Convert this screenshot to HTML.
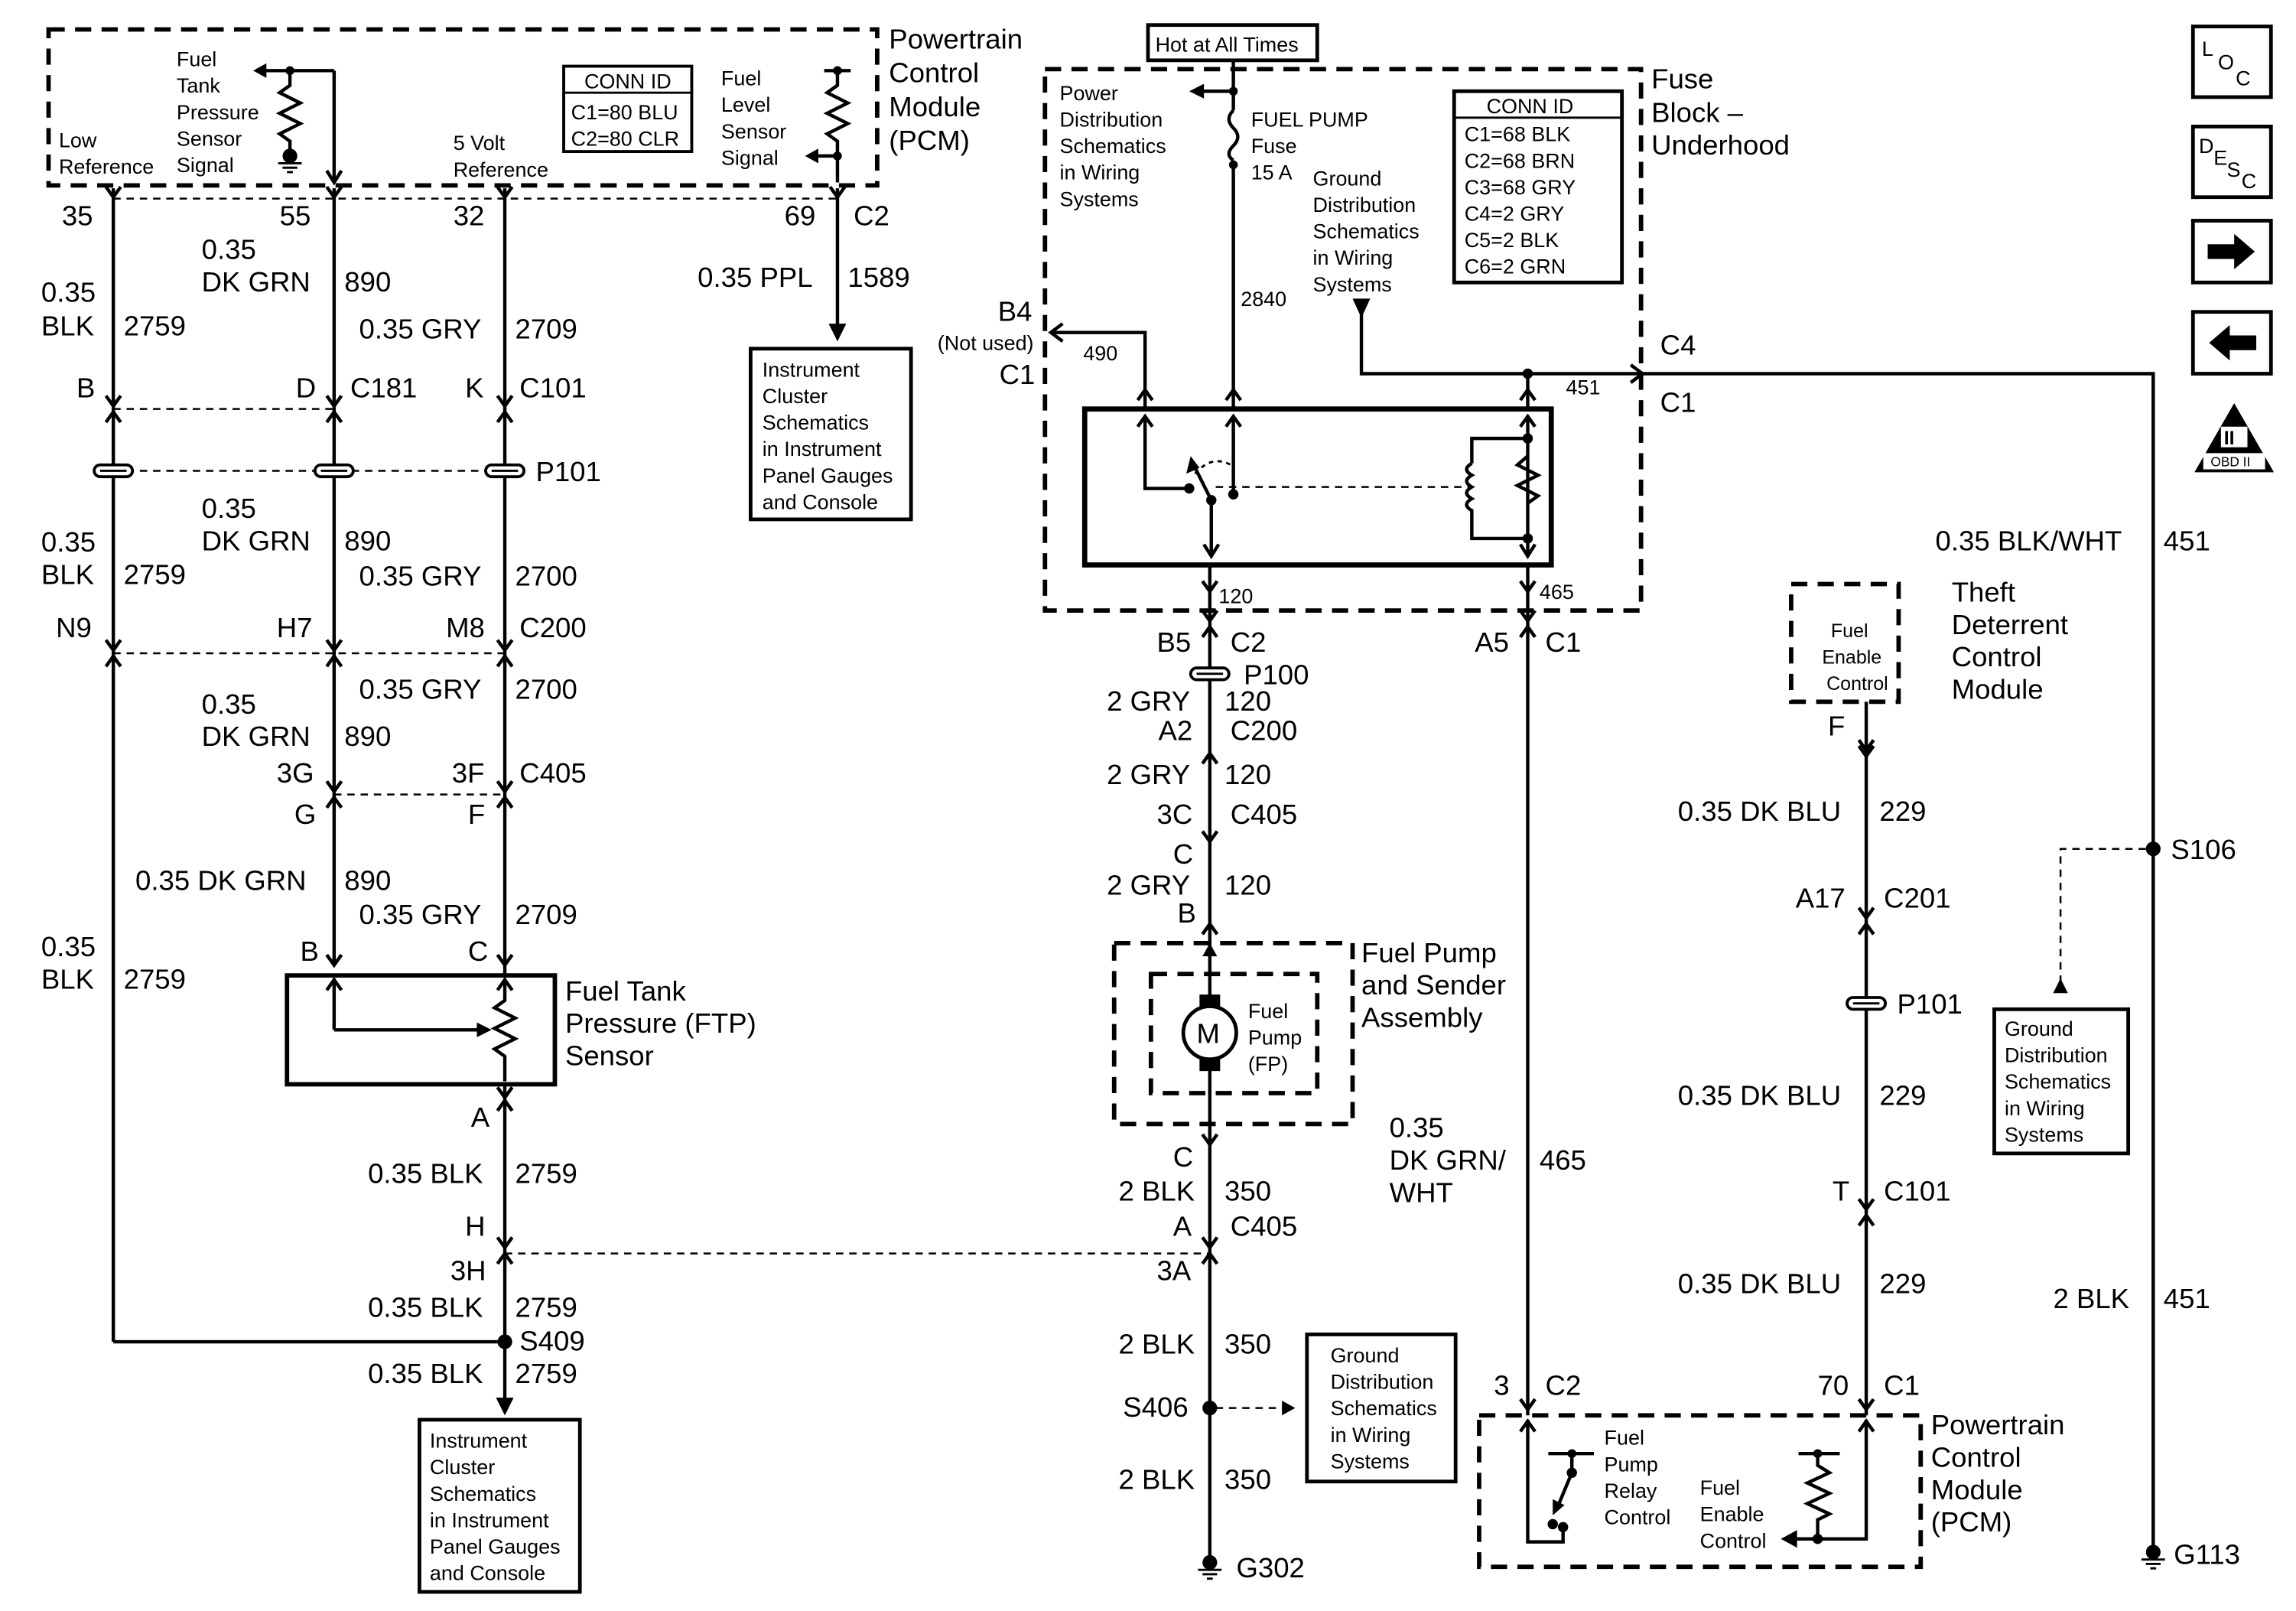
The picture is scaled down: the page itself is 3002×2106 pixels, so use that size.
<!DOCTYPE html>
<html><head><meta charset="utf-8"><style>
html,body{margin:0;padding:0;background:#fff}
svg{display:block}
text{font-family:"Liberation Sans",Arial,sans-serif;fill:#000}
.b{font-size:19px}
.s{font-size:14px}
.w{stroke:#000;stroke-width:2.3;fill:none}
.d{stroke:#000;stroke-width:3;fill:none;stroke-dasharray:11 7}
.dl{stroke:#000;stroke-width:1.3;fill:none;stroke-dasharray:5 4}
.t{stroke:#000;stroke-width:3;fill:none}
</style></head><body>
<svg width="3002" height="2106" viewBox="0 0 1560 1095" preserveAspectRatio="none" xmlns="http://www.w3.org/2000/svg">
<defs>
<g id="vd"><polyline points="-5,-7 0,0 5,-7" class="w"/></g>
<g id="vu"><polyline points="-5,7 0,0 5,7" class="w"/></g>
<g id="sp"><rect x="-13" y="-4" width="26" height="8" rx="4" fill="#fff" stroke="#000" stroke-width="2"/><line x1="-9" y1="0" x2="9" y2="0" stroke="#000" stroke-width="1.5"/></g>
<g id="gnd"><circle cx="0" cy="0" r="5" fill="#000"/><line x1="-8" y1="5" x2="8" y2="5" stroke="#000" stroke-width="1.5"/><line x1="-5" y1="8" x2="5" y2="8" stroke="#000" stroke-width="1.5"/><line x1="-2" y1="11" x2="2" y2="11" stroke="#000" stroke-width="1.5"/></g>
</defs>

<!-- Top PCM -->
<rect x="33" y="20" width="563" height="106" class="d"/>
<text class="b" x="604" y="33">Powertrain</text><text class="b" x="604" y="56">Control</text><text class="b" x="604" y="79">Module</text><text class="b" x="604" y="102">(PCM)</text>
<text class="s" x="40" y="100">Low</text><text class="s" x="40" y="118">Reference</text>
<text class="s" x="120" y="45">Fuel</text><text class="s" x="120" y="63">Tank</text><text class="s" x="120" y="81">Pressure</text><text class="s" x="120" y="99">Sensor</text><text class="s" x="120" y="117">Signal</text>
<polyline class="w" points="197,50 197,58 190,63 204,70 190,77 204,84 190,91 197,96 197,104"/>
<use href="#gnd" x="197" y="106"/>
<line class="w" x1="175" y1="48" x2="227" y2="48"/><polygon points="172,48 181,43 181,53"/>
<circle cx="197" cy="48" r="3"/>
<line class="w" x1="227" y1="48" x2="227" y2="124"/><polyline class="w" points="222,116 227,124 232,116"/>
<text class="s" x="308" y="102">5 Volt</text><text class="s" x="308" y="120">Reference</text>
<rect x="383" y="45" width="87" height="58" fill="none" stroke="#000" stroke-width="2"/>
<line x1="383" y1="63" x2="470" y2="63" stroke="#000" stroke-width="1.5"/>
<text class="s" x="397" y="60">CONN ID</text><text class="s" x="388" y="81">C1=80 BLU</text><text class="s" x="388" y="99">C2=80 CLR</text>
<text class="s" x="490" y="58">Fuel</text><text class="s" x="490" y="76">Level</text><text class="s" x="490" y="94">Sensor</text><text class="s" x="490" y="112">Signal</text>
<line class="w" x1="560" y1="48" x2="578" y2="48"/><circle cx="569" cy="48" r="3"/>
<polyline class="w" points="569,48 569,58 562,63 576,70 562,77 576,84 562,91 569,96 569,124"/>
<line class="w" x1="551" y1="106" x2="569" y2="106"/><polygon points="547,106 556,101 556,111"/><circle cx="569" cy="106" r="3"/>
<line class="dl" x1="77" y1="135" x2="569" y2="135"/>
<use href="#vd" x="77" y="134"/><use href="#vd" x="227" y="134"/><use href="#vd" x="343" y="134"/><use href="#vd" x="569" y="134"/>
<text class="b" x="42" y="153">35</text><text class="b" x="190" y="153">55</text><text class="b" x="308" y="153">32</text><text class="b" x="533" y="153">69</text><text class="b" x="580" y="153">C2</text>

<!-- left wires -->
<line class="w" x1="77" y1="128" x2="77" y2="912"/>
<line class="w" x1="227" y1="128" x2="227" y2="655"/>
<line class="w" x1="343" y1="128" x2="343" y2="960"/>
<line class="w" x1="77" y1="912" x2="343" y2="912"/>
<circle cx="343" cy="912" r="5"/>
<polygon points="343,962 337,950 349,950"/>
<text class="b" x="28" y="205">0.35</text><text class="b" x="28" y="228">BLK</text><text class="b" x="84" y="228">2759</text>
<text class="b" x="137" y="176">0.35</text><text class="b" x="137" y="198">DK GRN</text><text class="b" x="234" y="198">890</text>
<text class="b" x="244" y="230">0.35 GRY</text><text class="b" x="350" y="230">2709</text>
<line class="w" x1="569" y1="128" x2="569" y2="228"/><polygon points="569,232 563,220 575,220"/>
<text class="b" x="474" y="195">0.35 PPL</text><text class="b" x="576" y="195">1589</text>
<rect x="510" y="237" width="109" height="116" fill="none" stroke="#000" stroke-width="2.5"/>
<text class="s" x="518" y="256">Instrument</text><text class="s" x="518" y="274">Cluster</text><text class="s" x="518" y="292">Schematics</text><text class="s" x="518" y="310">in Instrument</text><text class="s" x="518" y="328">Panel Gauges</text><text class="s" x="518" y="346">and Console</text>

<text class="b" x="52" y="270">B</text><text class="b" x="201" y="270">D</text><text class="b" x="238" y="270">C181</text><text class="b" x="316" y="270">K</text><text class="b" x="353" y="270">C101</text>
<line class="dl" x1="77" y1="278" x2="227" y2="278"/>
<use href="#vd" x="77" y="276"/><use href="#vu" x="77" y="280"/><use href="#vd" x="227" y="276"/><use href="#vu" x="227" y="280"/><use href="#vd" x="343" y="276"/><use href="#vu" x="343" y="280"/>
<line class="dl" x1="77" y1="320" x2="343" y2="320"/>
<use href="#sp" x="77" y="320"/><use href="#sp" x="227" y="320"/><use href="#sp" x="343" y="320"/>
<text class="b" x="364" y="327">P101</text>
<text class="b" x="28" y="375">0.35</text><text class="b" x="28" y="397">BLK</text><text class="b" x="84" y="397">2759</text>
<text class="b" x="137" y="352">0.35</text><text class="b" x="137" y="374">DK GRN</text><text class="b" x="234" y="374">890</text>
<text class="b" x="244" y="398">0.35 GRY</text><text class="b" x="350" y="398">2700</text>
<text class="b" x="38" y="433">N9</text><text class="b" x="188" y="433">H7</text><text class="b" x="303" y="433">M8</text><text class="b" x="353" y="433">C200</text>
<line class="dl" x1="77" y1="444" x2="343" y2="444"/>
<use href="#vd" x="77" y="442"/><use href="#vu" x="77" y="446"/><use href="#vd" x="227" y="442"/><use href="#vu" x="227" y="446"/><use href="#vd" x="343" y="442"/><use href="#vu" x="343" y="446"/>
<text class="b" x="244" y="475">0.35 GRY</text><text class="b" x="350" y="475">2700</text>
<text class="b" x="137" y="485">0.35</text><text class="b" x="137" y="507">DK GRN</text><text class="b" x="234" y="507">890</text>
<text class="b" x="188" y="532">3G</text><text class="b" x="307" y="532">3F</text><text class="b" x="353" y="532">C405</text>
<line class="dl" x1="227" y1="540" x2="343" y2="540"/>
<use href="#vd" x="227" y="538"/><use href="#vu" x="227" y="542"/><use href="#vd" x="343" y="538"/><use href="#vu" x="343" y="542"/>
<text class="b" x="200" y="560">G</text><text class="b" x="318" y="560">F</text>
<text class="b" x="92" y="605">0.35 DK GRN</text><text class="b" x="234" y="605">890</text>
<text class="b" x="244" y="628">0.35 GRY</text><text class="b" x="350" y="628">2709</text>
<text class="b" x="28" y="650">0.35</text><text class="b" x="28" y="672">BLK</text><text class="b" x="84" y="672">2759</text>
<text class="b" x="204" y="653">B</text><text class="b" x="318" y="653">C</text>
<use href="#vd" x="227" y="656"/><use href="#vd" x="343" y="656"/>
<rect x="195" y="663" width="182" height="74" fill="#fff" stroke="#000" stroke-width="3"/>
<line class="w" x1="227" y1="665" x2="227" y2="700"/><use href="#vu" x="227" y="666"/>
<line class="w" x1="227" y1="700" x2="328" y2="700"/><polygon points="334,700 324,695 324,705"/>
<polyline class="w" points="343,665 343,680 336,685 350,692 336,699 350,706 336,713 343,718 343,735"/><use href="#vu" x="343" y="666"/>
<text class="b" x="384" y="680">Fuel Tank</text><text class="b" x="384" y="702">Pressure (FTP)</text><text class="b" x="384" y="724">Sensor</text>
<use href="#vd" x="343" y="746"/><use href="#vu" x="343" y="748"/>
<text class="b" x="320" y="766">A</text>
<text class="b" x="250" y="804">0.35 BLK</text><text class="b" x="350" y="804">2759</text>
<text class="b" x="316" y="840">H</text>
<use href="#vd" x="343" y="848"/><use href="#vu" x="343" y="852"/>
<line class="dl" x1="343" y1="852" x2="822" y2="852"/>
<text class="b" x="306" y="870">3H</text>
<text class="b" x="250" y="895">0.35 BLK</text><text class="b" x="350" y="895">2759</text>
<text class="b" x="353" y="918">S409</text>
<text class="b" x="250" y="940">0.35 BLK</text><text class="b" x="350" y="940">2759</text>
<rect x="285" y="965" width="109" height="117" fill="none" stroke="#000" stroke-width="2.5"/>
<text class="s" x="292" y="984">Instrument</text><text class="s" x="292" y="1002">Cluster</text><text class="s" x="292" y="1020">Schematics</text><text class="s" x="292" y="1038">in Instrument</text><text class="s" x="292" y="1056">Panel Gauges</text><text class="s" x="292" y="1074">and Console</text>

<!-- Center fuse block -->
<rect x="780" y="17" width="115" height="24" fill="none" stroke="#000" stroke-width="2.5"/>
<text class="s" x="785" y="35">Hot at All Times</text>
<rect x="710" y="47" width="405" height="368" class="d"/>
<text class="b" x="1122" y="60">Fuse</text><text class="b" x="1122" y="83">Block –</text><text class="b" x="1122" y="105">Underhood</text>
<text class="s" x="720" y="68">Power</text><text class="s" x="720" y="86">Distribution</text><text class="s" x="720" y="104">Schematics</text><text class="s" x="720" y="122">in Wiring</text><text class="s" x="720" y="140">Systems</text>
<line class="w" x1="838" y1="41" x2="838" y2="75"/>
<line class="w" x1="814" y1="62" x2="838" y2="62"/><polygon points="808,62 818,57 818,67"/><circle cx="838" cy="62" r="3"/>
<path class="w" d="M838,75 q-6,6 0,12 q6,6 0,12 q-6,6 0,10"/>
<circle cx="838" cy="112" r="3"/>
<line class="w" x1="838" y1="112" x2="838" y2="278"/>
<text class="s" x="850" y="86">FUEL PUMP</text><text class="s" x="850" y="104">Fuse</text><text class="s" x="850" y="122">15 A</text>
<text class="s" x="843" y="208">2840</text>
<text class="s" x="892" y="126">Ground</text><text class="s" x="892" y="144">Distribution</text><text class="s" x="892" y="162">Schematics</text><text class="s" x="892" y="180">in Wiring</text><text class="s" x="892" y="198">Systems</text>
<polygon points="919,203 931,203 925,216"/>
<polyline class="w" points="925,210 925,254 1463,254 1463,1055"/>
<circle cx="1038" cy="254" r="3.5"/>
<line class="w" x1="1038" y1="254" x2="1038" y2="278"/>
<rect x="988" y="62" width="114" height="130" fill="none" stroke="#000" stroke-width="2.5"/>
<line x1="988" y1="80" x2="1102" y2="80" stroke="#000" stroke-width="1.5"/>
<text class="s" x="1010" y="77">CONN ID</text>
<text class="s" x="995" y="96">C1=68 BLK</text><text class="s" x="995" y="114">C2=68 BRN</text><text class="s" x="995" y="132">C3=68 GRY</text><text class="s" x="995" y="150">C4=2 GRY</text><text class="s" x="995" y="168">C5=2 BLK</text><text class="s" x="995" y="186">C6=2 GRN</text>
<text class="b" x="678" y="218">B4</text><text class="s" x="637" y="238">(Not used)</text><text class="b" x="679" y="261">C1</text>
<polyline class="w" points="722,220 714,226 722,232"/>
<polyline class="w" points="714,226 778,226 778,278"/>
<text class="s" x="736" y="245">490</text>
<use href="#vu" x="778" y="265"/><use href="#vu" x="838" y="265"/><use href="#vu" x="1038" y="265"/>
<polyline class="w" points="1108,248 1116,254 1108,260"/>
<text class="b" x="1128" y="241">C4</text><text class="b" x="1128" y="280">C1</text>
<text class="s" x="1064" y="268">451</text>
<rect x="737" y="278" width="317" height="106" fill="none" stroke="#000" stroke-width="3.5"/>
<polyline class="w" points="778,283 778,332 808,332"/><use href="#vu" x="778" y="283"/>
<line class="w" x1="838" y1="283" x2="838" y2="336"/><use href="#vu" x="838" y="283"/>
<circle cx="808" cy="332" r="3.5"/><circle cx="838" cy="336" r="3.5"/>
<path d="M812,322 q12,-14 26,-5" stroke="#000" stroke-width="1.5" fill="none" stroke-dasharray="3 3"/>
<line class="w" x1="823" y1="340" x2="810" y2="314"/>
<polygon points="809,310 806,322 815,318"/>
<circle cx="823" cy="340" r="3.5"/>
<line class="w" x1="823" y1="340" x2="823" y2="378"/><polyline class="w" points="818,370 823,378 828,370"/>
<line class="dl" x1="826" y1="331" x2="1000" y2="331"/>
<polyline class="w" points="1038,283 1038,378"/><use href="#vu" x="1038" y="283"/><polyline class="w" points="1033,370 1038,378 1043,370"/>
<polyline class="w" points="1038,298 1000,298 1000,315"/>
<path class="w" d="M1000,315 q-7,4 0,8 q-7,4 0,8 q-7,4 0,8 q-7,4 0,8 L1000,366 1038,366"/>
<circle cx="1038" cy="298" r="3.5"/><circle cx="1038" cy="366" r="3.5"/>
<polyline class="w" points="1038,310 1031,316 1045,323 1031,330 1045,337 1038,342" fill="#fff"/>
<use href="#vd" x="822" y="402"/><use href="#vd" x="1038" y="402"/>
<text class="s" x="828" y="410">120</text><text class="s" x="1046" y="407">465</text>
<line class="w" x1="822" y1="384" x2="822" y2="1062"/>
<line class="w" x1="1038" y1="384" x2="1038" y2="962"/>
<use href="#vd" x="822" y="422"/><use href="#vu" x="822" y="426"/>
<use href="#vd" x="1038" y="422"/><use href="#vu" x="1038" y="426"/>
<text class="b" x="786" y="443">B5</text><text class="b" x="836" y="443">C2</text>
<text class="b" x="1002" y="443">A5</text><text class="b" x="1050" y="443">C1</text>
<use href="#sp" x="822" y="458"/><text class="b" x="845" y="465">P100</text>
<text class="b" x="752" y="483">2 GRY</text><text class="b" x="832" y="483">120</text>
<text class="b" x="787" y="503">A2</text><text class="b" x="836" y="503">C200</text>
<use href="#vu" x="822" y="512"/>
<text class="b" x="752" y="533">2 GRY</text><text class="b" x="832" y="533">120</text>
<text class="b" x="786" y="560">3C</text><text class="b" x="836" y="560">C405</text>
<use href="#vd" x="822" y="572"/>
<text class="b" x="797" y="587">C</text>
<text class="b" x="752" y="608">2 GRY</text><text class="b" x="832" y="608">120</text>
<text class="b" x="800" y="627">B</text>
<use href="#vu" x="822" y="628"/>
<rect x="757" y="641" width="162" height="123" class="d"/>
<rect x="782" y="662" width="113" height="81" class="d"/>
<text class="b" x="925" y="654">Fuel Pump</text><text class="b" x="925" y="676">and Sender</text><text class="b" x="925" y="698">Assembly</text>
<rect x="815" y="676" width="14" height="8"/><rect x="815" y="720" width="14" height="8"/>
<circle cx="822" cy="702" r="18" fill="#fff" stroke="#000" stroke-width="2.5"/>
<text class="b" x="813" y="709">M</text>
<polygon points="822,641 817,650 827,650"/>
<text class="s" x="848" y="692">Fuel</text><text class="s" x="848" y="710">Pump</text><text class="s" x="848" y="728">(FP)</text>
<use href="#vd" x="822" y="778"/>
<text class="b" x="797" y="793">C</text>
<text class="b" x="760" y="816">2 BLK</text><text class="b" x="832" y="816">350</text>
<text class="b" x="797" y="840">A</text><text class="b" x="836" y="840">C405</text>
<use href="#vd" x="822" y="848"/><use href="#vu" x="822" y="852"/>
<text class="b" x="786" y="870">3A</text>
<text class="b" x="760" y="920">2 BLK</text><text class="b" x="832" y="920">350</text>
<circle cx="822" cy="957" r="5"/>
<text class="b" x="763" y="963">S406</text>
<line class="dl" x1="826" y1="957" x2="872" y2="957"/><polygon points="880,957 871,952 871,962"/>
<rect x="888" y="907" width="101" height="100" fill="none" stroke="#000" stroke-width="2.5"/>
<text class="s" x="904" y="926">Ground</text><text class="s" x="904" y="944">Distribution</text><text class="s" x="904" y="962">Schematics</text><text class="s" x="904" y="980">in Wiring</text><text class="s" x="904" y="998">Systems</text>
<text class="b" x="760" y="1012">2 BLK</text><text class="b" x="832" y="1012">350</text>
<use href="#gnd" x="822" y="1062"/><text class="b" x="840" y="1072">G302</text>

<!-- 465 wire and bottom PCM -->
<text class="b" x="944" y="773">0.35</text><text class="b" x="944" y="795">DK GRN/</text><text class="b" x="944" y="817">WHT</text><text class="b" x="1046" y="795">465</text>
<text class="b" x="1015" y="948">3</text><text class="b" x="1050" y="948">C2</text>
<text class="b" x="1235" y="948">70</text><text class="b" x="1280" y="948">C1</text>
<use href="#vd" x="1038" y="958"/><use href="#vd" x="1268" y="958"/>
<rect x="1005" y="962" width="300" height="103" class="d"/>
<text class="b" x="1312" y="975">Powertrain</text><text class="b" x="1312" y="997">Control</text><text class="b" x="1312" y="1019">Module</text><text class="b" x="1312" y="1041">(PCM)</text>
<polyline class="w" points="1038,965 1038,1048 1062,1048 1062,1038"/><use href="#vu" x="1038" y="966"/>
<line class="w" x1="1052" y1="988" x2="1083" y2="988"/><circle cx="1068" cy="988" r="3"/>
<line class="w" x1="1068" y1="988" x2="1068" y2="1001"/><circle cx="1068" cy="1001" r="3.5"/>
<line class="w" x1="1068" y1="1001" x2="1058" y2="1025"/><polygon points="1055,1030 1055,1019 1063,1023"/>
<circle cx="1055" cy="1036" r="3.5"/><circle cx="1062" cy="1038" r="3.5"/>
<path d="M1055,1036 q4,6 7,2" stroke="#000" stroke-width="1.5" fill="none" stroke-dasharray="3 3"/>
<text class="s" x="1090" y="982">Fuel</text><text class="s" x="1090" y="1000">Pump</text><text class="s" x="1090" y="1018">Relay</text><text class="s" x="1090" y="1036">Control</text>
<text class="s" x="1155" y="1016">Fuel</text><text class="s" x="1155" y="1034">Enable</text><text class="s" x="1155" y="1052">Control</text>
<line class="w" x1="1222" y1="988" x2="1250" y2="988"/><circle cx="1235" cy="988" r="3"/>
<polyline class="w" points="1235,988 1235,996 1243,1001 1228,1008 1243,1015 1228,1022 1243,1029 1235,1033 1235,1046"/>
<circle cx="1235" cy="1046" r="3.5"/>
<polyline class="w" points="1218,1046 1268,1046 1268,965"/><use href="#vu" x="1268" y="966"/>
<polygon points="1210,1046 1221,1040 1221,1052"/>

<!-- Theft deterrent -->
<rect x="1217" y="397" width="73" height="80" class="d"/>
<text x="1244" y="433" style="font-size:13px">Fuel</text><text x="1238" y="451" style="font-size:13px">Enable</text><text x="1241" y="469" style="font-size:13px">Control</text>
<text class="b" x="1326" y="409">Theft</text><text class="b" x="1326" y="431">Deterrent</text><text class="b" x="1326" y="453">Control</text><text class="b" x="1326" y="475">Module</text>
<text class="b" x="1242" y="500">F</text>
<line class="w" x1="1268" y1="477" x2="1268" y2="962"/>
<use href="#vd" x="1268" y="510"/><use href="#vd" x="1268" y="514"/>
<text class="b" x="1140" y="558">0.35 DK BLU</text><text class="b" x="1277" y="558">229</text>
<text class="b" x="1220" y="617">A17</text><text class="b" x="1280" y="617">C201</text>
<use href="#vd" x="1268" y="624"/><use href="#vu" x="1268" y="628"/>
<use href="#sp" x="1268" y="682"/><text class="b" x="1289" y="689">P101</text>
<text class="b" x="1140" y="751">0.35 DK BLU</text><text class="b" x="1277" y="751">229</text>
<text class="b" x="1245" y="816">T</text><text class="b" x="1280" y="816">C101</text>
<use href="#vd" x="1268" y="822"/><use href="#vu" x="1268" y="826"/>
<text class="b" x="1140" y="879">0.35 DK BLU</text><text class="b" x="1277" y="879">229</text>

<!-- right wire 451 -->
<text class="b" x="1315" y="374">0.35 BLK/WHT</text><text class="b" x="1470" y="374">451</text>
<circle cx="1463" cy="577" r="5"/><text class="b" x="1475" y="584">S106</text>
<polyline class="dl" points="1458,577 1400,577 1400,668"/><polygon points="1400,665 1395,675 1405,675"/>
<rect x="1355" y="686" width="91" height="98" fill="none" stroke="#000" stroke-width="2.5"/>
<text class="s" x="1362" y="704">Ground</text><text class="s" x="1362" y="722">Distribution</text><text class="s" x="1362" y="740">Schematics</text><text class="s" x="1362" y="758">in Wiring</text><text class="s" x="1362" y="776">Systems</text>
<text class="b" x="1395" y="889">2 BLK</text><text class="b" x="1470" y="889">451</text>
<use href="#gnd" x="1463" y="1055"/><text class="b" x="1477" y="1063">G113</text>

<!-- icons -->
<rect x="1490" y="18" width="53" height="48" fill="none" stroke="#000" stroke-width="2.5"/>
<text class="s" x="1496" y="38">L</text><text class="s" x="1507" y="47">O</text><text class="s" x="1519" y="58">C</text>
<rect x="1490" y="86" width="53" height="48" fill="none" stroke="#000" stroke-width="2.5"/>
<text class="s" x="1494" y="104">D</text><text class="s" x="1504" y="112">E</text><text class="s" x="1513" y="120">S</text><text class="s" x="1523" y="128">C</text>
<rect x="1490" y="150" width="53" height="42" fill="none" stroke="#000" stroke-width="2.5"/>
<polygon points="1500,166 1518,166 1518,159 1532,171 1518,183 1518,176 1500,176"/>
<rect x="1490" y="212" width="53" height="42" fill="none" stroke="#000" stroke-width="2.5"/>
<polygon points="1533,228 1515,228 1515,221 1501,233 1515,245 1515,238 1533,238"/>
<polygon points="1518,274 1545,321 1491,321"/>
<rect x="1509" y="290" width="18" height="14" fill="#fff"/>
<text x="1511" y="302" style="font-size:13px;font-weight:bold">II</text>
<rect x="1497" y="308" width="42" height="11" fill="#fff"/>
<text x="1502" y="317" style="font-size:9px">OBD II</text>
</svg>
</body></html>
